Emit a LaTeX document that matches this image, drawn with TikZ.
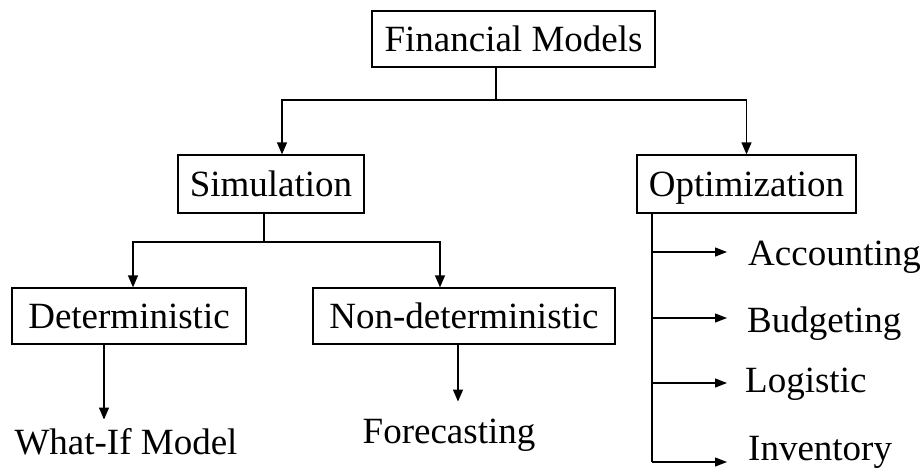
\documentclass[tikz,border=0pt]{standalone}
\usepackage{fontspec}
\setmainfont{Liberation Serif}
\usetikzlibrary{arrows.meta}

\begin{document}
\begin{tikzpicture}[x=1pt, y=-1pt,
  lbl/.style={font=\fontsize{37}{44}\selectfont, inner sep=0pt,
              text height=24.5pt, text depth=0pt},
  boxed/.style={lbl, draw, line width=1.3pt, rectangle},
  link/.style={line width=1.3pt},
  arr/.style={link, -{Triangle[length=12pt, width=10pt]}},
  harr/.style={link, -{Triangle[length=12pt, width=9pt]}}
]
\useasboundingbox (0,0) rectangle (923,468);

% boxed categories
\node[boxed, minimum width=283pt, minimum height=56pt] (fm)  at (513.5,39)  {Financial Models};
\node[boxed, minimum width=186pt, minimum height=58pt] (sim) at (271,184)   {Simulation};
\node[boxed, minimum width=219pt, minimum height=58pt] (opt) at (746.5,184) {Optimization};
\node[boxed, minimum width=234pt, minimum height=56pt] (det) at (129,316)   {Deterministic};
\node[boxed, minimum width=302pt, minimum height=56pt] (nd)  at (464,316)   {Non-deterministic};

% plain labels
\node[lbl] (wi) at (126,442) {What-If Model};
\node[lbl] (fc) at (449,431) {Forecasting};
\node[lbl, anchor=west] (acc) at (748,253)   {Accounting};
\node[lbl, anchor=west] (bud) at (747,320)   {Budgeting};
\node[lbl, anchor=west] (log) at (745,380)   {Logistic};
\node[lbl, anchor=west] (inv) at (748,448.5) {Inventory};

% branch points
\coordinate (j1) at (496,100);
\coordinate (j2) at (264,242);
\coordinate (xs) at (282,0);
\coordinate (xd) at (133,0);
\coordinate (xn) at (440,0);
\coordinate (xw) at (104,0);
\coordinate (xf) at (458,0);
\coordinate (xo) at (652,0);
\coordinate (t1) at (652,252);
\coordinate (t2) at (652,318);
\coordinate (t3) at (652,383);
\coordinate (t4) at (652,462);

% top level
\draw[link] (fm.south -| j1) -- (j1);
\draw[arr] (j1) -| (sim.north -| xs);
\draw[arr] (j1) -| (opt.north);

% simulation branches
\draw[link] (sim.south -| j2) -- (j2);
\draw[arr] (j2) -| (det.north -| xd);
\draw[arr] (j2) -| (nd.north -| xn);

% leaves under simulation
\draw[arr, shorten >=10pt] (det.south -| xw) -- (wi.north -| xw);
\draw[arr, shorten >=17pt] (nd.south -| xf) -- (fc.north -| xf);

% optimization trunk and leaves
\draw[link] (opt.south -| xo) -- (t4);
\draw[harr, shorten >=21pt] (t1) -- (acc.west |- t1);
\draw[harr, shorten >=20pt] (t2) -- (bud.west |- t2);
\draw[harr, shorten >=18pt] (t3) -- (log.west |- t3);
\draw[harr, shorten >=21pt] (t4) -- (inv.west |- t4);
\end{tikzpicture}
\end{document}
